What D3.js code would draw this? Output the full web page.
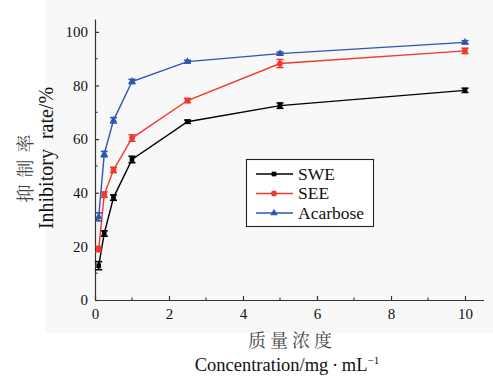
<!DOCTYPE html>
<html><head><meta charset="utf-8">
<script src="https://cdn.jsdelivr.net/npm/d3@7/dist/d3.min.js"></script>
<style>body{margin:0;background:#fff}svg{display:block}</style>
</head><body>
<script>
const concentrations = [0.1, 0.25, 0.5, 1, 2.5, 5, 10];
const sweValues = [12.8, 24.8, 38.2, 52.4, 66.5, 72.5, 78.2];
const sweErrors = [1.5, 1.0, 1.0, 1.2, 0.6, 1.0, 0.8];
const seeValues = [19.0, 39.3, 48.5, 60.4, 74.4, 88.2, 92.9];
const seeErrors = [1.0, 1.0, 1.0, 1.2, 0.8, 1.5, 1.0];
const acarboseValues = [31.0, 54.4, 67.0, 81.5, 88.9, 91.9, 96.1];
const acarboseErrors = [1.5, 1.0, 1.0, 0.8, 0.5, 0.6, 0.6];
const seriesNames = ["SWE", "SEE", "Acarbose"];
const xTicks = [0, 2, 4, 6, 8, 10];
const yTicks = [0, 20, 40, 60, 80, 100];

const W = 493, H = 380;
const svg = d3.select("body").append("svg").attr("width", W).attr("height", H);
svg.append("rect").attr("x", 45).attr("y", 0).attr("width", W - 45).attr("height", 333).attr("fill", "#f8f8f8");

const x = d3.scaleLinear().domain([0, 10.5]).range([95, 483.5]);
const y = d3.scaleLinear().domain([0, 104.8]).range([300, 19]);

const serif = "Liberation Serif, Times New Roman, serif";
const axisColor = "#333";

// axes
const xAxis = svg.append("g").attr("transform", `translate(0,${y(0)})`)
  .call(d3.axisBottom(x).tickValues(xTicks).tickSizeInner(-4).tickSizeOuter(0).tickPadding(8).tickFormat(d3.format("d")));
const yAxis = svg.append("g").attr("transform", `translate(${x(0)},0)`)
  .call(d3.axisLeft(y).tickValues(yTicks).tickSizeInner(-4).tickSizeOuter(0).tickPadding(7).tickFormat(d3.format("d")));
[xAxis, yAxis].forEach(g => {
  g.attr("font-family", serif).attr("font-size", 15);
  g.select(".domain").attr("stroke", axisColor).attr("stroke-width", 1.2);
  g.selectAll(".tick line").attr("stroke", axisColor).attr("stroke-width", 1.2);
  g.selectAll("text").attr("font-family", serif).attr("font-size", 15).attr("fill", "#111");
});
// minor ticks
const xMinor = [1, 3, 5, 7, 9];
const yMinor = [10, 30, 50, 70, 90];
svg.append("g").selectAll("line").data(xMinor).join("line")
  .attr("x1", d => x(d)).attr("x2", d => x(d)).attr("y1", y(0)).attr("y2", y(0) - 2.5)
  .attr("stroke", axisColor).attr("stroke-width", 1.1);
svg.append("g").selectAll("line").data(yMinor).join("line")
  .attr("y1", d => y(d)).attr("y2", d => y(d)).attr("x1", x(0)).attr("x2", x(0) + 2.5)
  .attr("stroke", axisColor).attr("stroke-width", 1.1);

const series = [
  {name: seriesNames[0], vals: sweValues, errs: sweErrors, color: "#000000", shape: d3.symbolSquare, size: 22},
  {name: seriesNames[1], vals: seeValues, errs: seeErrors, color: "#f0382f", shape: d3.symbolCircle, size: 26},
  {name: seriesNames[2], vals: acarboseValues, errs: acarboseErrors, color: "#2f55b3", shape: d3.symbolTriangle, size: 24}
];

const line = d3.line().x(d => x(d.x)).y(d => y(d.y));
series.forEach(s => {
  const pts = concentrations.map((c, i) => ({x: c, y: s.vals[i], e: s.errs[i]}));
  const g = svg.append("g");
  g.append("path").datum(pts).attr("d", line).attr("fill", "none").attr("stroke", s.color).attr("stroke-width", 1.4);
  const eb = g.selectAll("g.eb").data(pts).join("g");
  eb.append("line").attr("x1", d => x(d.x)).attr("x2", d => x(d.x))
    .attr("y1", d => y(d.y - d.e)).attr("y2", d => y(d.y + d.e)).attr("stroke", s.color).attr("stroke-width", 1.6);
  eb.append("line").attr("x1", d => x(d.x) - 3.5).attr("x2", d => x(d.x) + 3.5)
    .attr("y1", d => y(d.y - d.e)).attr("y2", d => y(d.y - d.e)).attr("stroke", s.color).attr("stroke-width", 1.6);
  eb.append("line").attr("x1", d => x(d.x) - 3.5).attr("x2", d => x(d.x) + 3.5)
    .attr("y1", d => y(d.y + d.e)).attr("y2", d => y(d.y + d.e)).attr("stroke", s.color).attr("stroke-width", 1.6);
  g.selectAll("path.m").data(pts).join("path").attr("class", "m")
    .attr("transform", d => `translate(${x(d.x)},${y(d.y)})`)
    .attr("d", d3.symbol().type(s.shape).size(s.size)).attr("fill", s.color);
});

// legend
const lg = svg.append("g");
lg.append("rect").attr("x", 246.5).attr("y", 159.5).attr("width", 127).attr("height", 67)
  .attr("fill", "#fff").attr("stroke", "#222").attr("stroke-width", 1.1);
series.forEach((s, i) => {
  const yy = 174 + i * 19.5;
  lg.append("line").attr("x1", 256).attr("x2", 293).attr("y1", yy).attr("y2", yy).attr("stroke", s.color).attr("stroke-width", 1.4);
  lg.append("path").attr("transform", `translate(274,${yy})`).attr("d", d3.symbol().type(s.shape).size(s.size)).attr("fill", s.color);
  lg.append("text").attr("x", 298).attr("y", yy + 5.5).attr("font-family", serif).attr("font-size", 17.5).attr("fill", "#111").text(s.name);
});

// axis titles
const cjk = "Noto Serif CJK SC, Noto Sans CJK SC, serif";
svg.append("text").attr("transform", "translate(32,165) rotate(-90)").attr("text-anchor", "middle")
  .attr("font-family", cjk).attr("font-size", 18).attr("letter-spacing", 7).attr("fill", "#444").text("抑制率");
svg.append("text").attr("transform", "translate(53,158) rotate(-90)").attr("text-anchor", "middle")
  .attr("font-family", serif).attr("font-size", 20).attr("fill", "#111").text("Inhibitory\u00a0\u00a0rate/%");
svg.append("text").attr("x", 292).attr("y", 347).attr("text-anchor", "middle")
  .attr("font-family", cjk).attr("font-size", 18).attr("letter-spacing", 4).attr("fill", "#444").text("质量浓度");
const t = svg.append("text").attr("x", 287).attr("y", 371).attr("text-anchor", "middle")
  .attr("font-family", serif).attr("font-size", 18.5).attr("fill", "#111");
t.append("tspan").text("Concentration/mg\u2009·\u2009mL");
t.append("tspan").attr("dy", -7).attr("font-size", 11).text("−1");
</script>
</body></html>
